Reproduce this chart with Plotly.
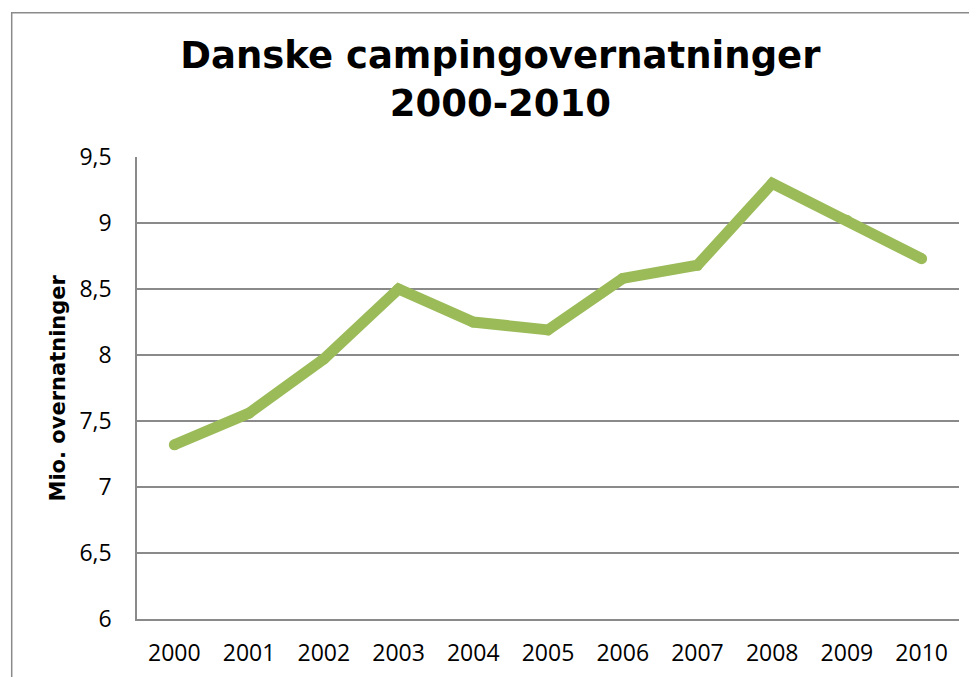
import plotly.graph_objects as go

years = ["2000", "2001", "2002", "2003", "2004", "2005",
         "2006", "2007", "2008", "2009", "2010"]
overnight_stays = [7.32, 7.56, 7.97, 8.50, 8.25, 8.19,
                   8.58, 8.68, 9.30, 9.02, 8.73]
y_ticks = [6, 6.5, 7, 7.5, 8, 8.5, 9, 9.5]
y_tick_labels = ["6", "6,5", "7", "7,5", "8", "8,5", "9", "9,5"]

green = "#9BBB59"
grey = "#8A8A8A"

# page body has an 8px margin, so everything is laid out 8px up/left
W, H = 977, 677
left, top, right, bottom = 129, 149, 951, 611
plot_w, plot_h = right - left, bottom - top

fig = go.Figure()
fig.add_trace(go.Scatter(
    x=years, y=overnight_stays,
    mode="lines+markers",
    line=dict(color=green, width=11),
    marker=dict(color=green, size=11, line=dict(width=0)),
    hoverinfo="x+y",
))

fig.update_layout(
    width=W, height=H,
    margin=dict(l=left, r=W - right, t=top, b=H - bottom),
    paper_bgcolor="white", plot_bgcolor="white",
    showlegend=False,
    title=dict(
        text="Danske campingovernatninger<br>2000-2010",
        font=dict(family="DejaVu Sans", size=37, color="black", weight="bold"),
        x=492.4 / W, xref="container", xanchor="center",
        y=1 - 60 / H, yref="container", yanchor="top",
    ),
    xaxis=dict(
        type="category",
        range=[-0.5, 10.5],
        showgrid=False,
        showline=True, linecolor=grey, linewidth=1.5,
        ticks="", ticklabelstandoff=13,
        tickfont=dict(family="Open Sans", size=23, color="black"),
    ),
    yaxis=dict(
        range=[6, 9.5],
        tickvals=y_ticks, ticktext=y_tick_labels,
        showgrid=True, gridcolor=grey, gridwidth=1.5,
        showline=True, linecolor=grey, linewidth=1.5,
        zeroline=False,
        ticks="", ticklabelstandoff=19,
        tickfont=dict(family="Open Sans", size=23, color="black"),
    ),
    annotations=[dict(
        text="Mio. overnatninger",
        textangle=-90,
        x=(49.5 - left) / plot_w, y=0.5, xref="paper", yref="paper",
        xanchor="center", yanchor="middle", showarrow=False,
        font=dict(family="DejaVu Sans", size=21, color="black", weight="bold"),
    )],
    shapes=[dict(
        type="rect", xref="paper", yref="paper",
        x0=(3.7 - left) / plot_w, x1=1.2,
        y0=-0.3, y1=(bottom - 4.7) / plot_h,
        line=dict(color=grey, width=1.5),
        layer="below",
    )],
)

fig.write_html("out.html")
